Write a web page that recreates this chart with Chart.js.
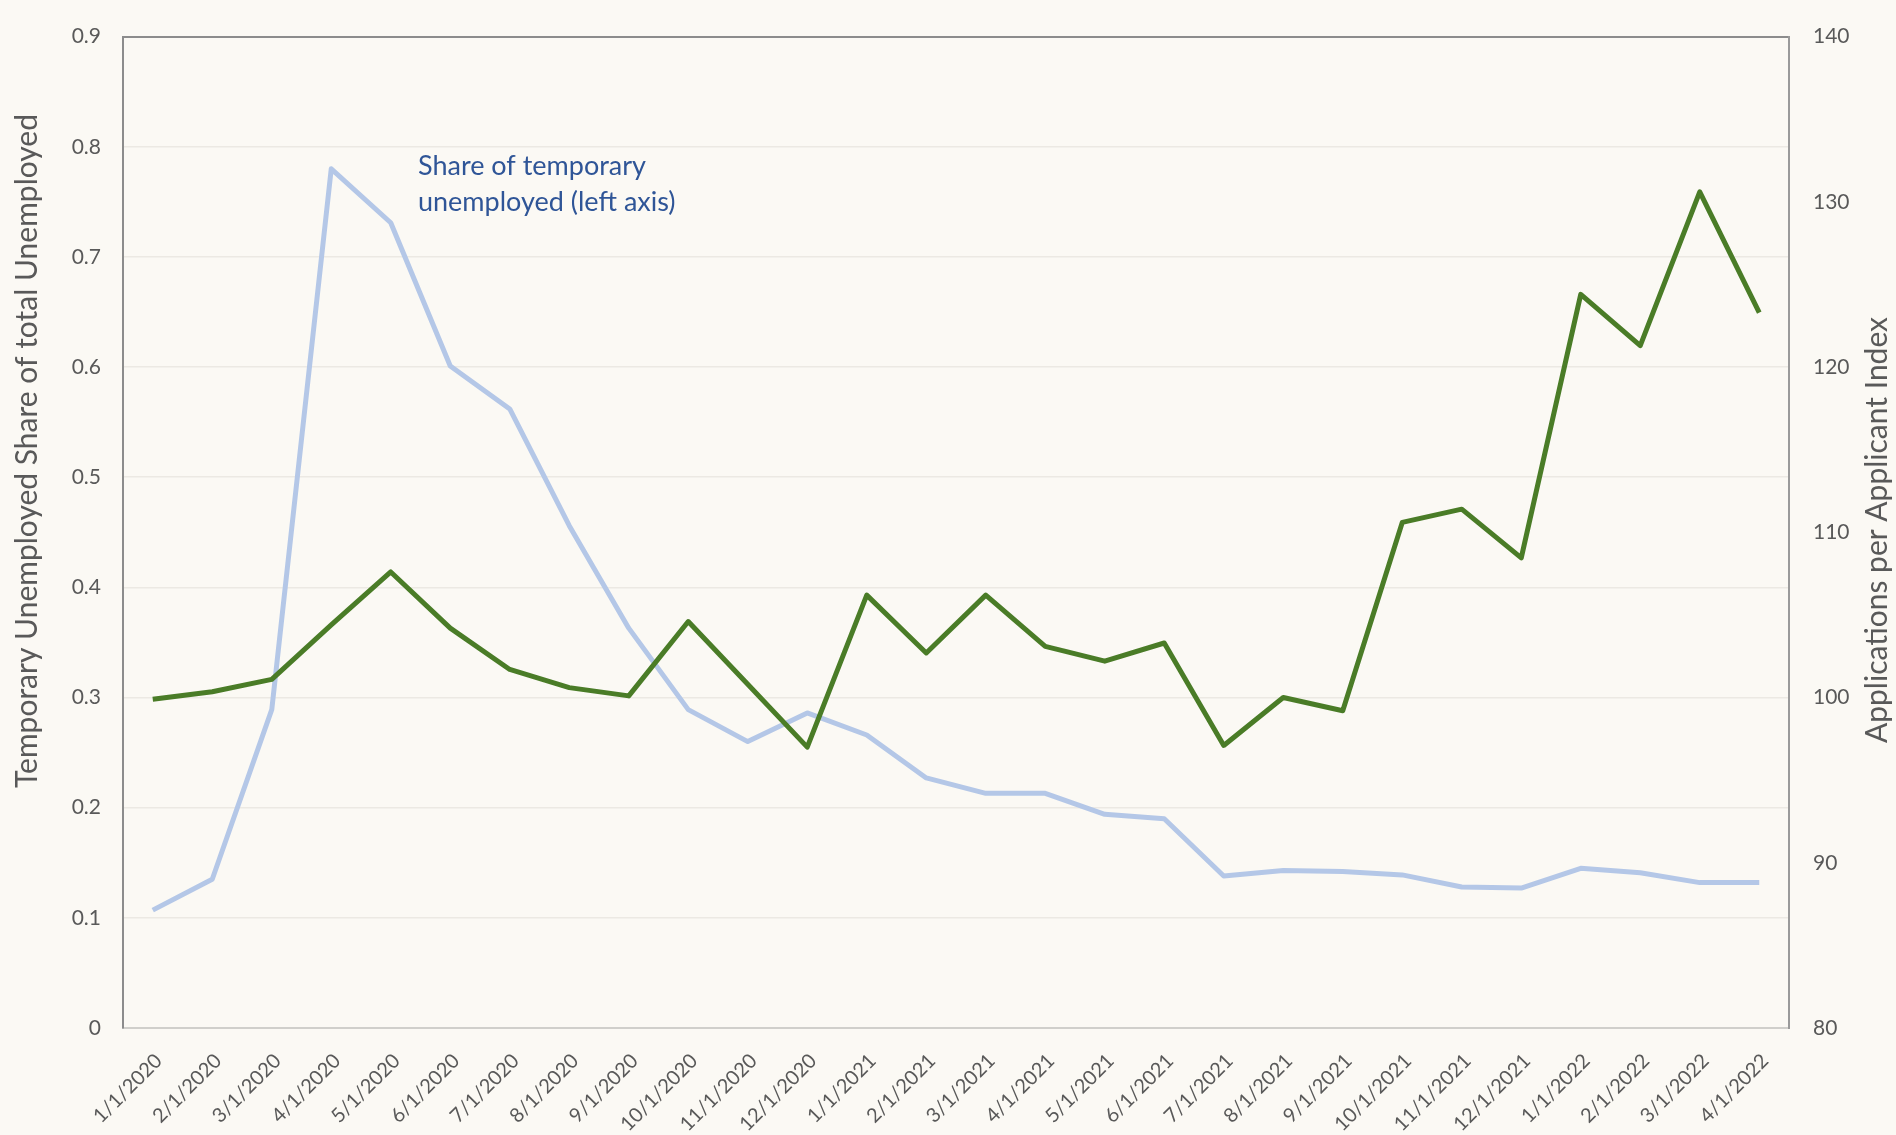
<!DOCTYPE html>
<html>
<head>
<meta charset="utf-8">
<script src="https://cdn.jsdelivr.net/npm/chart.js@4/dist/chart.umd.min.js"></script>
<style>
  html, body { margin: 0; padding: 0; background: #fbf9f4; }
  #wrap { width: 1896px; height: 1135px; }
</style>
</head>
<body>
<div id="wrap"><canvas id="c" width="1896" height="1135"></canvas></div>
<script>
const categories = ['1/1/2020','2/1/2020','3/1/2020','4/1/2020','5/1/2020','6/1/2020','7/1/2020','8/1/2020','9/1/2020','10/1/2020','11/1/2020','12/1/2020',
  '1/1/2021','2/1/2021','3/1/2021','4/1/2021','5/1/2021','6/1/2021','7/1/2021','8/1/2021','9/1/2021','10/1/2021','11/1/2021','12/1/2021',
  '1/1/2022','2/1/2022','3/1/2022','4/1/2022'];

const tempShare = [0.107, 0.135, 0.289, 0.780, 0.731, 0.601, 0.562, 0.456, 0.363, 0.289, 0.260, 0.286,
  0.266, 0.227, 0.213, 0.213, 0.194, 0.190, 0.138, 0.143, 0.142, 0.139, 0.128, 0.127,
  0.145, 0.141, 0.132, 0.132];

const appIndex = [99.9, 100.35, 101.1, 104.4, 107.6, 104.2, 101.7, 100.6, 100.1, 104.6, 100.8, 97.0,
  106.2, 102.7, 106.2, 103.1, 102.2, 103.3, 97.1, 100.0, 99.2, 110.6, 111.4, 108.45,
  124.4, 121.3, 130.6, 123.3];

const leftAxisTitle = 'Temporary Unemployed Share of total Unemployed';
const rightAxisTitle = 'Applications per Applicant Index';
const annotationLines = ['Share of temporary', 'unemployed (left axis)'];

const FONT = 'Lato, "Open Sans", sans-serif';
const GRAY = '#595959';

const extras = {
  id: 'extras',
  beforeDraw(chart) {
    const ctx = chart.ctx;
    ctx.save();
    ctx.fillStyle = '#fbf9f4';
    ctx.fillRect(0, 0, chart.width, chart.height);
    ctx.restore();
  },
  afterDraw(chart) {
    const ctx = chart.ctx;
    ctx.save();
    ctx.fillStyle = GRAY;
    ctx.font = '30px ' + FONT;
    ctx.textAlign = 'center';
    ctx.textBaseline = 'middle';
    ctx.translate(27, 451);
    ctx.rotate(-Math.PI / 2);
    ctx.fillText(leftAxisTitle, 0, 0);
    ctx.restore();

    ctx.save();
    ctx.fillStyle = GRAY;
    ctx.font = '30px ' + FONT;
    ctx.textAlign = 'center';
    ctx.textBaseline = 'middle';
    ctx.translate(1877, 530);
    ctx.rotate(-Math.PI / 2);
    ctx.fillText(rightAxisTitle, 0, 0);
    ctx.restore();

    ctx.save();
    ctx.fillStyle = '#2f5597';
    ctx.font = '27px ' + FONT;
    ctx.textAlign = 'left';
    ctx.textBaseline = 'alphabetic';
    ctx.fillText(annotationLines[0], 418, 175);
    ctx.fillText(annotationLines[1], 418, 211);
    ctx.restore();
  }
};

new Chart(document.getElementById('c'), {
  type: 'line',
  data: {
    labels: categories,
    datasets: [
      {
        label: 'Applications per Applicant Index',
        data: appIndex,
        yAxisID: 'yR',
        borderColor: '#4a7c27',
        borderWidth: 5,
        pointRadius: 0,
        tension: 0,
        order: 0,
        borderJoinStyle: 'round'
      },
      {
        label: 'Share of temporary unemployed (left axis)',
        data: tempShare,
        yAxisID: 'yL',
        borderColor: '#b4c7e7',
        borderWidth: 5,
        pointRadius: 0,
        tension: 0,
        order: 1,
        borderJoinStyle: 'round'
      }
    ]
  },
  options: {
    responsive: false,
    animation: false,
    devicePixelRatio: 1,
    layout: { padding: { top: 34, left: 0, right: 0, bottom: 0 } },
    plugins: { legend: { display: false }, tooltip: { enabled: false } },
    scales: {
      x: {
        offset: true,
        grid: { display: false, drawTicks: false, offset: true },
        border: { display: true, color: '#d0cfcb', width: 2 },
        ticks: {
          autoSkip: false, maxRotation: 45, minRotation: 45,
          color: GRAY, font: { family: FONT, size: 20 }, padding: 21, labelOffset: 6
        },
        afterFit(s) { s.height = 107; }
      },
      yL: {
        position: 'left',
        min: 0, max: 0.9,
        ticks: {
          stepSize: 0.1, color: GRAY, font: { family: FONT, size: 21 }, padding: 22,
          callback: v => String(Number(v.toFixed(1)))
        },
        grid: {
          drawTicks: false,
          color: ctx => (ctx.tick && Math.abs(ctx.tick.value - 0.9) < 1e-6) ? '#8c8c8c' : (ctx.tick && ctx.tick.value === 0 ? '#d0cfcb' : '#ece9e3'),
          lineWidth: ctx => (ctx.tick && Math.abs(ctx.tick.value - 0.9) < 1e-6) ? 2 : 1.5
        },
        border: { display: true, color: '#8c8c8c', width: 2 },
        afterFit(s) { s.width = 123; }
      },
      yR: {
        position: 'right',
        min: 80, max: 140,
        ticks: { stepSize: 10, color: GRAY, font: { family: FONT, size: 21 }, padding: 24 },
        grid: { display: false, drawTicks: false },
        border: { display: true, color: '#9a9a9a', width: 2 },
        afterFit(s) { s.width = 107; }
      }
    }
  },
  plugins: [extras]
});
</script>
</body>
</html>
